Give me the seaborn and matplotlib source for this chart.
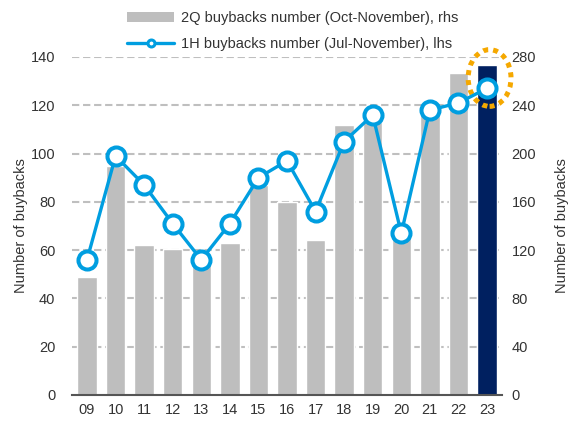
import matplotlib
matplotlib.use("Agg")
import matplotlib.pyplot as plt
import seaborn as sns
import pandas as pd
from matplotlib.patches import Patch, Ellipse
from matplotlib.lines import Line2D

years = ["09", "10", "11", "12", "13", "14", "15", "16", "17", "18", "19", "20", "21", "22", "23"]
bars_2q = [98, 190, 124, 121, 112, 126, 174, 160, 128, 224, 226, 130, 232, 267, 273]
line_1h = [56, 99, 87, 71, 56, 71, 90, 97, 76, 105, 116, 67, 118, 121, 127]
bar_label = "2Q buybacks number (Oct-November), rhs"
line_label = "1H buybacks number (Jul-November), lhs"
left_ticks = [0, 20, 40, 60, 80, 100, 120, 140]
right_ticks = [0, 40, 80, 120, 160, 200, 240, 280]

sns.set_theme(style="white")
plt.rcParams["font.family"] = ["Liberation Sans", "DejaVu Sans"]
TXT = "#333333"
GRAY = "#BEBEBE"
NAVY = "#002060"
BLUE = "#009EE0"
ORANGE = "#F5A800"

df = pd.DataFrame({"year": years, "bars": bars_2q, "line": line_1h})

fig = plt.figure(figsize=(5.76, 4.26), dpi=100)
ax = fig.add_axes([72/576, 31/426, 430/576, 338/426])
ax2 = ax.twinx()

colors = [GRAY] * (len(years) - 1) + [NAVY]
sns.barplot(data=df, x="year", y="bars", hue="year", palette=colors, legend=False,
            width=0.68, ax=ax2, saturation=1, order=years)

sns.pointplot(data=df, x="year", y="line", order=years, ax=ax, color=BLUE,
              markers="o", linestyles="-", markersize=13, linewidth=2.4,
              markerfacecolor="white", markeredgecolor=BLUE, markeredgewidth=2.9)

ax.set_zorder(ax2.get_zorder() + 1)
ax.patch.set_visible(False)

ax.set_xlim(-0.525, len(years) - 0.475)
ax.set_ylim(0, 140)
ax2.set_ylim(0, 280)
ax.set_yticks(left_ticks)
ax2.set_yticks(right_ticks)

# grid on bar axis (behind bars)
ax2.set_axisbelow(True)
ax2.yaxis.grid(True, color="#BFBFBF", linewidth=1.5, linestyle=(0, (3.5, 1.8)))
ax.grid(False)
ax2.xaxis.grid(False)

for a in (ax, ax2):
    for s in a.spines.values():
        s.set_visible(False)
ax2.spines["bottom"].set_visible(True)
ax2.spines["bottom"].set_color("#555555")
ax2.spines["bottom"].set_linewidth(1.5)
ax2.get_ygridlines()[0].set_visible(False)

ax.tick_params(axis="y", length=0, pad=12, labelsize=10.5, labelcolor=TXT)
ax2.tick_params(axis="y", length=0, pad=7, labelsize=10.5, labelcolor=TXT)
ax.tick_params(axis="x", length=0, pad=6, labelsize=10.5, labelcolor=TXT)
ax2.tick_params(axis="x", length=0)
ax.set_xlabel("")
ax2.set_xlabel("")
ax.set_ylabel("Number of buybacks", fontsize=10.5, color=TXT, labelpad=2)
ax2.set_ylabel("Number of buybacks", fontsize=10.5, color=TXT, labelpad=13.5)

# highlight circle around last point
ell = Ellipse((len(years) - 1 + 0.09, 131.3), width=1.5, height=23.5, fill=False,
              edgecolor=ORANGE, linewidth=3.6, linestyle=(0, (1.0, 1.0)),
              clip_on=False, zorder=1)
ax.add_patch(ell)

handles = [
    Patch(facecolor=GRAY, edgecolor="none", label=bar_label),
    Line2D([0], [0], color=BLUE, linewidth=2.4, marker="o", markersize=5,
           markerfacecolor="white", markeredgecolor=BLUE, markeredgewidth=2.2,
           label=line_label),
]
fig.legend(handles=handles, loc="upper left", bbox_to_anchor=(120/576, 1 - 4/426),
           frameon=False, fontsize=10.5, handlelength=3.2, handleheight=0.65,
           handletextpad=0.45, labelspacing=0.8, borderpad=0, labelcolor=TXT)

fig.savefig("out.png", dpi=100)
